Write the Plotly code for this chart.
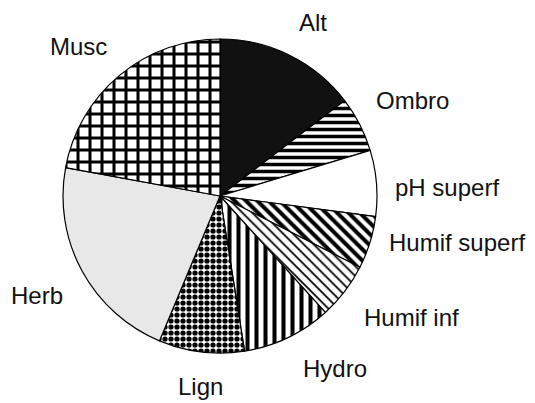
import plotly.graph_objects as go

labels = ["Alt", "Ombro", "pH superf", "Humif superf", "Humif inf",
          "Hydro", "Lign", "Herb", "Musc"]
values = [14.6, 5.7, 6.8, 5.4, 5.8, 9.2, 8.8, 21.6, 22.1]

W, H = 535, 403
cx, cy, r = 220, 196, 157

colors = ["#111111", "white", "white", "white", "white", "white", "white", "#e8e8e8", "white"]
shapes = ["", "-", "", "\\", "\\", "|", ".", "", "+"]
psize = [8, 7, 8, 8, 7, 9, 6, 8, 12]
psolid = [0.3, 0.5, 0.3, 0.5, 0.25, 0.45, 0.6, 0.3, 0.44]

# label centers (pixels)
label_pos = {
    "Alt": (313, 23), "Ombro": (412, 100), "pH superf": (447, 188),
    "Humif superf": (457, 242), "Humif inf": (411, 317), "Hydro": (335, 368),
    "Lign": (200, 386), "Herb": (37, 295), "Musc": (78, 47),
}

fig = go.Figure(go.Pie(
    labels=labels, values=values, sort=False, direction="clockwise", rotation=0,
    textinfo="none", hoverinfo="label+percent", showlegend=False,
    marker=dict(colors=colors, line=dict(color="black", width=1.2),
                pattern=dict(shape=shapes, fgcolor="black", size=psize,
                             solidity=psolid, fillmode="replace")),
    domain=dict(x=[(cx - r) / W, (cx + r) / W], y=[1 - (cy + r) / H, 1 - (cy - r) / H]),
))

for lab in labels:
    px, py = label_pos[lab]
    fig.add_annotation(x=px / W, y=1 - py / H, xref="paper", yref="paper",
                       text=lab, showarrow=False, xanchor="center", yanchor="middle",
                       font=dict(family="Liberation Sans, Arial", size=24, color="#111"))

fig.update_layout(width=W, height=H, margin=dict(l=0, r=0, t=0, b=0),
                  paper_bgcolor="white", plot_bgcolor="white")
fig.write_html("out.html", config={"displayModeBar": False},
               post_script="document.body.style.margin='0';document.body.style.overflow='hidden';")
